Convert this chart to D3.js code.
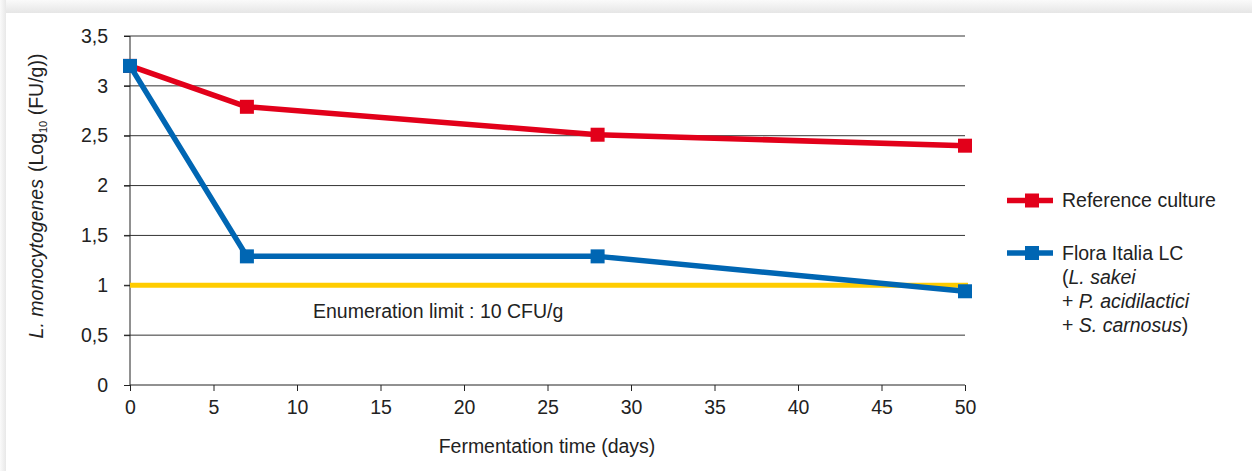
<!DOCTYPE html>
<html><head><meta charset="utf-8">
<script src="https://cdn.jsdelivr.net/npm/d3@7"></script>
<style>
html,body{margin:0;padding:0;background:#fff;}
svg{display:block;}
text{font-family:"Liberation Sans Narrow","Arial Narrow","Liberation Sans",sans-serif;fill:#222;}
</style></head><body>
<svg id="c" width="1252" height="471"></svg>
<script>
const days = [0, 7, 28, 50];
const referenceCulture = [3.2, 2.79, 2.51, 2.4];
const floraItalia = [3.2, 1.29, 1.29, 0.94];
const enumerationLimit = 1;
const xTicks = [0,5,10,15,20,25,30,35,40,45,50];
const yTicks = [0,0.5,1,1.5,2,2.5,3,3.5];
const seriesNames = ["Reference culture", "Flora Italia LC"];

const FS = "19.5px";
const svg = d3.select("#c");
const W = 1252, H = 471;

// frame with soft shadow
const defs = svg.append("defs");
const gTop = defs.append("linearGradient").attr("id","gt").attr("x1",0).attr("y1",0).attr("x2",0).attr("y2",1);
gTop.append("stop").attr("offset","0").attr("stop-color","#fafafa");
gTop.append("stop").attr("offset","1").attr("stop-color","#e6e6e6");
const gLeft = defs.append("linearGradient").attr("id","gl").attr("x1",0).attr("y1",0).attr("x2",1).attr("y2",0);
gLeft.append("stop").attr("offset","0").attr("stop-color","#fafafa");
gLeft.append("stop").attr("offset","1").attr("stop-color","#e8e8e8");
svg.append("rect").attr("x",0).attr("y",0).attr("width",W).attr("height",13).attr("fill","url(#gt)");
svg.append("rect").attr("x",0).attr("y",0).attr("width",6).attr("height",H).attr("fill","url(#gl)");
svg.append("rect").attr("x",6).attr("y",13).attr("width",W-6).attr("height",H-13).attr("fill","#fff");

const x = d3.scaleLinear().domain([0,50]).range([130,965]);
const y = d3.scaleLinear().domain([0,3.5]).range([385,36]);

// gridlines
svg.append("g").selectAll("line").data(yTicks.filter(d=>d>0)).join("line")
  .attr("x1",124).attr("x2",965).attr("y1",d=>y(d)).attr("y2",d=>y(d))
  .attr("stroke","#333").attr("stroke-width",1);

// y axis
const yAxis = svg.append("g").attr("transform","translate(130,0)")
  .call(d3.axisLeft(y).tickValues(yTicks).tickSize(6).tickPadding(16)
    .tickFormat(d=>String(d).replace(".",",")));
yAxis.select(".domain").attr("stroke","#222").attr("d","M0,"+y(3.5)+"V"+y(0));
yAxis.selectAll(".tick line").attr("stroke","#222");
yAxis.selectAll("text").style("font-size",FS).attr("fill","#222");

// x axis
const xAxis = svg.append("g").attr("transform","translate(0,385)")
  .call(d3.axisBottom(x).tickValues(xTicks).tickSize(6).tickPadding(9));
xAxis.select(".domain").attr("stroke","#222").attr("d","M130,0H965");
xAxis.selectAll(".tick line").attr("stroke","#222");
xAxis.selectAll("text").style("font-size",FS).attr("fill","#222");

// enumeration limit
svg.append("line").attr("x1",x(0)).attr("x2",x(50)+3).attr("y1",y(enumerationLimit)).attr("y2",y(enumerationLimit))
  .attr("stroke","#ffcc00").attr("stroke-width",5);
svg.append("text").attr("x",313).attr("y",318).style("font-size",FS).text("Enumeration limit : 10 CFU/g");

const line = d3.line().x(d=>x(d[0])).y(d=>y(d[1]));
const series = [
  {name:seriesNames[0], vals:referenceCulture, color:"#e2001a"},
  {name:seriesNames[1], vals:floraItalia, color:"#0066b3"}
];
const M = 14;
series.forEach(s=>{
  const pts = days.map((d,i)=>[d,s.vals[i]]);
  svg.append("path").attr("d",line(pts)).attr("fill","none").attr("stroke",s.color).attr("stroke-width",5.5).attr("stroke-linejoin","round");
  svg.append("g").selectAll("rect").data(pts).join("rect")
    .attr("x",d=>x(d[0])-M/2).attr("y",d=>y(d[1])-M/2).attr("width",M).attr("height",M).attr("fill",s.color);
});

// legend
const leg = svg.append("g");
const legY = [200.5, 253];
series.forEach((s,i)=>{
  leg.append("line").attr("x1",1007).attr("x2",1053).attr("y1",legY[i]).attr("y2",legY[i]).attr("stroke",s.color).attr("stroke-width",5.5);
  leg.append("rect").attr("x",1025).attr("y",legY[i]-7).attr("width",M).attr("height",M).attr("fill",s.color);
});
leg.append("text").attr("x",1062).attr("y",207).style("font-size",FS).text(seriesNames[0]);
leg.append("text").attr("x",1062).attr("y",260).style("font-size",FS).text(seriesNames[1]);
const t2 = leg.append("text").attr("x",1062).attr("y",284).style("font-size",FS);
t2.append("tspan").text("(");
t2.append("tspan").style("font-style","italic").text("L. sakei");
const t3 = leg.append("text").attr("x",1062).attr("y",308).style("font-size",FS);
t3.append("tspan").text("+ ");
t3.append("tspan").style("font-style","italic").text("P. acidilactici");
const t4 = leg.append("text").attr("x",1062).attr("y",332).style("font-size",FS);
t4.append("tspan").text("+ ");
t4.append("tspan").style("font-style","italic").text("S. carnosus");
t4.append("tspan").text(")");

// axis titles
svg.append("text").attr("x",547).attr("y",453).attr("text-anchor","middle").style("font-size",FS).text("Fermentation time (days)");
const yl = svg.append("text").attr("transform","translate(43,196) rotate(-90)").attr("text-anchor","middle").style("font-size",FS);
yl.append("tspan").style("font-style","italic").text("L. monocytogenes");
yl.append("tspan").attr("dx",7).text("(Log");
yl.append("tspan").attr("dy",4).style("font-size","11px").text("10");
yl.append("tspan").attr("dy",-4).text(" (FU/g))");
</script>
</body></html>
